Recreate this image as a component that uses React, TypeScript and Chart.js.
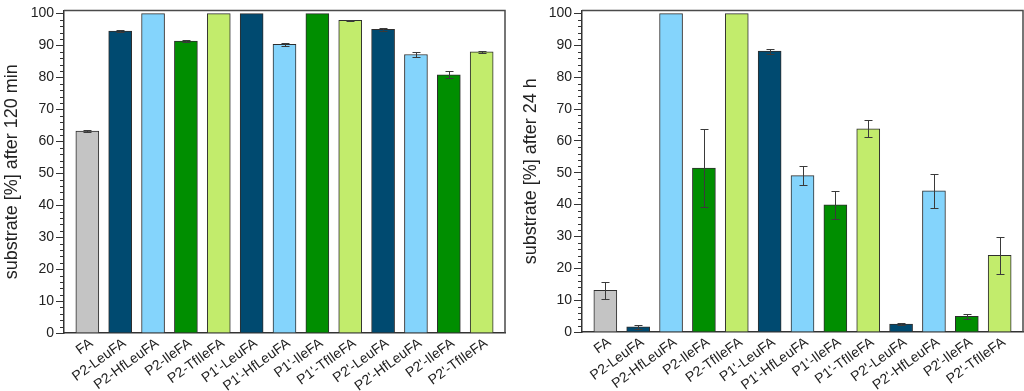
import React, { useEffect, useRef } from "react";
import { Chart, registerables } from "chart.js";

Chart.register(...registerables);

const categories = [
  "FA", "P2-LeuFA", "P2-HfLeuFA", "P2-IleFA", "P2-TfIleFA",
  "P1'-LeuFA", "P1'-HfLeuFA", "P1'-IleFA", "P1'-TfIleFA",
  "P2'-LeuFA", "P2'-HfLeuFA", "P2'-IleFA", "P2'-TfIleFA",
];

const values120min = [63.2, 94.5, 100, 91.4, 100, 100, 90.4, 100, 97.9, 95.1, 87.2, 80.8, 88.0];
const errors120min = [0.3, 0.4, 0, 0.2, 0, 0, 0.5, 0, 0.2, 0.4, 0.9, 1.1, 0.3];

const values24h = [13.1, 1.6, 100, 51.5, 100, 88.2, 49.1, 39.9, 63.8, 2.5, 44.3, 4.9, 24.1];
const errors24h = [2.6, 0.6, 0, 12.2, 0, 0.8, 3.0, 4.5, 2.7, 0.4, 5.4, 0.7, 5.8];

const yTicks = [0, 10, 20, 30, 40, 50, 60, 70, 80, 90, 100];

const GRAY = "#c4c4c4";
const NAVY = "#004a70";
const LIGHTBLUE = "#84d4fc";
const GREEN = "#008e00";
const LIME = "#c2ec6c";
const barColors = [GRAY, NAVY, LIGHTBLUE, GREEN, LIME, NAVY, LIGHTBLUE, GREEN, LIME, NAVY, LIGHTBLUE, GREEN, LIME];

const FONT = "'Liberation Sans', Arial, sans-serif";
const AXIS = "#333333";
const LABEL_SHIFT = 0.13;

const decorPlugin = {
  id: "decor",
  afterDatasetsDraw(chart: any, _args: any, opts: any) {
    const { ctx, scales } = chart;
    const y = scales.y;
    const meta = chart.getDatasetMeta(0);
    const vals: number[] = opts.values;
    const errs: number[] = opts.errors;
    ctx.save();
    ctx.strokeStyle = "#3a3a3a";
    ctx.lineWidth = 1;
    meta.data.forEach((bar: any, i: number) => {
      const e = errs[i];
      if (!e) return;
      const v = vals[i];
      const xc = Math.round(bar.x) + 0.5;
      const yt = Math.round(y.getPixelForValue(v + e)) + 0.5;
      const yb = Math.round(y.getPixelForValue(v - e)) + 0.5;
      ctx.beginPath();
      ctx.moveTo(xc, yt);
      ctx.lineTo(xc, yb);
      ctx.moveTo(xc - 4, yt);
      ctx.lineTo(xc + 4, yt);
      ctx.moveTo(xc - 4, yb);
      ctx.lineTo(xc + 4, yb);
      ctx.stroke();
    });
    ctx.restore();
  },
  afterDraw(chart: any) {
    const { ctx, chartArea: a, scales } = chart;
    const y = scales.y;
    ctx.save();
    ctx.strokeStyle = AXIS;
    ctx.lineWidth = 1;
    for (let v = 0; v <= 100; v += 2) {
      if (v % 10 === 0) continue;
      const py = Math.round(y.getPixelForValue(v)) + 0.5;
      ctx.beginPath();
      ctx.moveTo(a.left - 4, py);
      ctx.lineTo(a.left, py);
      ctx.stroke();
    }
    ctx.strokeStyle = "#4a4a4a";
    ctx.lineWidth = 1.5;
    ctx.beginPath();
    ctx.moveTo(a.left, a.top);
    ctx.lineTo(a.right, a.top);
    ctx.lineTo(a.right, a.bottom);
    ctx.stroke();
    ctx.restore();
  },
};

type PanelProps = {
  values: number[];
  errors: number[];
  title: string;
  left: number;
  width: number;
  yAxisWidth: number;
  xAxisHeight: number;
  padRight: number;
  titlePad: number;
};

function Panel(props: PanelProps) {
  const ref = useRef<HTMLCanvasElement | null>(null);
  useEffect(() => {
    if (!ref.current) return;
    const data = props.values.map((v, i) => ({ x: i, y: v }));
    const chart = new Chart(ref.current, {
      type: "bar",
      data: {
        datasets: [
          {
            data: data as any,
            backgroundColor: barColors,
            borderColor: "#2e2e2e",
            borderWidth: 1,
            barThickness: 23,
          },
        ],
      },
      options: {
        responsive: false,
        animation: false,
        devicePixelRatio: 1,
        layout: { padding: { top: 8, right: props.padRight, left: 0, bottom: 0 } },
        plugins: {
          legend: { display: false },
          tooltip: { enabled: false },
          decor: { values: props.values, errors: props.errors },
        } as any,
        scales: {
          x: {
            type: "linear",
            offset: false,
            min: -0.71,
            max: 12.71,
            afterBuildTicks: (axis: any) => {
              axis.ticks = categories.map((_, i) => ({ value: i + LABEL_SHIFT }));
            },
            afterFit: (axis: any) => {
              axis.height = props.xAxisHeight;
            },
            grid: { display: false, drawTicks: false },
            border: { display: true, color: AXIS, width: 1.5 },
            ticks: {
              autoSkip: false,
              minRotation: 36,
              maxRotation: 36,
              padding: 2,
              color: "#222",
              font: { family: FONT, size: 14 },
              callback: (v: any) => categories[Math.round(v as number)] ?? "",
            },
          },
          y: {
            type: "linear",
            min: 0,
            max: 101,
            afterBuildTicks: (axis: any) => {
              axis.ticks = yTicks.map((v) => ({ value: v }));
            },
            afterFit: (axis: any) => {
              axis.width = props.yAxisWidth;
            },
            grid: {
              display: true,
              drawOnChartArea: false,
              drawTicks: true,
              tickLength: 8,
              color: AXIS,
            },
            border: { display: true, color: AXIS, width: 1.5 },
            ticks: {
              padding: 2,
              color: "#222",
              font: { family: FONT, size: 14 },
            },
            title: {
              display: true,
              text: props.title,
              color: "#222",
              font: { family: FONT, size: 18 },
              padding: { top: props.titlePad, bottom: 0 },
            },
          },
        },
      },
      plugins: [decorPlugin as any],
    });
    return () => chart.destroy();
  }, []);
  return (
    <canvas
      ref={ref}
      width={props.width}
      height={391}
      style={{ position: "absolute", left: props.left, top: 0, display: "block" }}
    />
  );
}

export default function App() {
  return (
    <div style={{ position: "fixed", left: 0, top: 0, width: 1024, height: 391, background: "#fff" }}>
      <Panel
        values={values120min}
        errors={errors120min}
        title="substrate [%] after 120 min"
        left={0}
        width={512}
        yAxisWidth={64}
        xAxisHeight={58}
        padRight={7}
        titlePad={1}
      />
      <Panel
        values={values24h}
        errors={errors24h}
        title="substrate [%] after 24 h"
        left={512}
        width={512}
        yAxisWidth={70}
        xAxisHeight={59}
        padRight={1}
        titlePad={8}
      />
    </div>
  );
}
